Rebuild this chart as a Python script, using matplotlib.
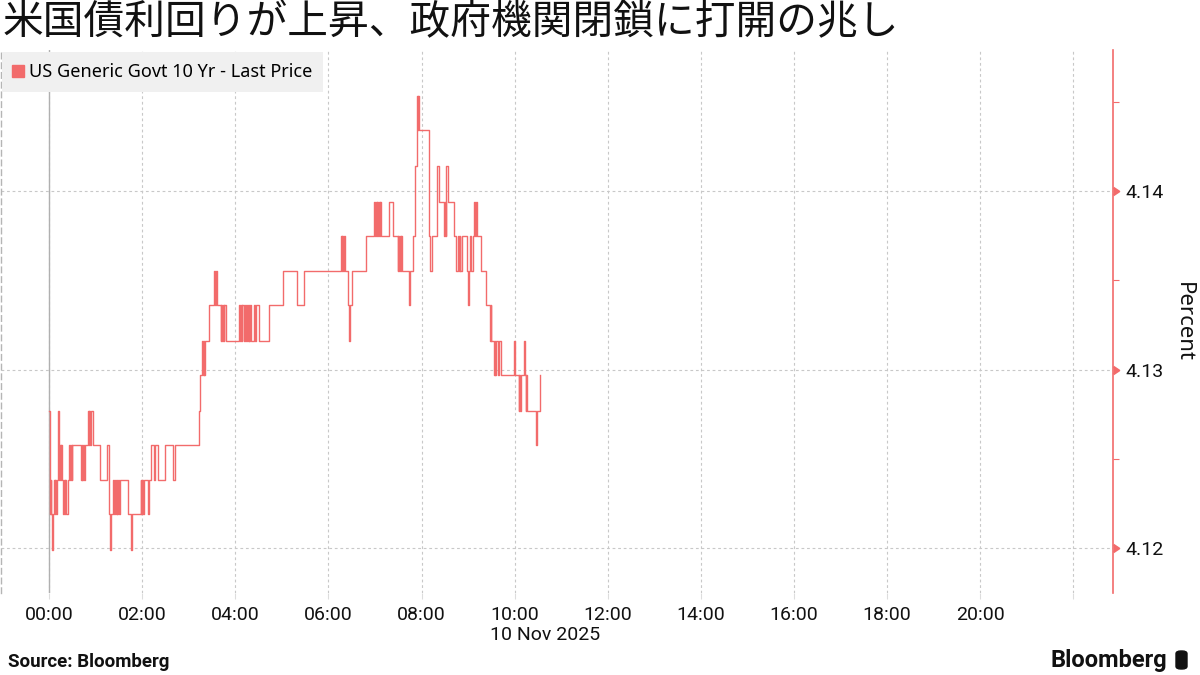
import matplotlib
matplotlib.use("Agg")
import matplotlib.pyplot as plt
import matplotlib.dates as mdates
from matplotlib.lines import Line2D
from matplotlib.patches import FancyBboxPatch
import pandas as pd

# ---------------- data ----------------
title = "米国債利回りが上昇、政府機関閉鎖に打開の兆し"
series_name = "US Generic Govt 10 Yr - Last Price"
date_label = "10 Nov 2025"
y_label = "Percent"
source = "Source: Bloomberg"

times = [
    "00:00", "00:01", "00:02", "00:03", "00:04", "00:05", "00:06", "00:07", "00:08", "00:09",
    "00:10", "00:12", "00:13", "00:14", "00:15", "00:16", "00:17", "00:18", "00:19", "00:20",
    "00:21", "00:22", "00:24", "00:26", "00:27", "00:28", "00:29", "00:30", "00:41", "00:42",
    "00:43", "00:44", "00:45", "00:46", "00:50", "00:51", "00:52", "00:53", "00:54", "00:56",
    "01:05", "01:15", "01:17", "01:19", "01:20", "01:22", "01:24", "01:25", "01:26", "01:27",
    "01:28", "01:29", "01:30", "01:31", "01:42", "01:45", "01:47", "01:58", "01:59", "02:00",
    "02:01", "02:02", "02:07", "02:09", "02:11", "02:15", "02:17", "02:20", "02:29", "02:37",
    "02:40", "02:42", "03:13", "03:15", "03:17", "03:18", "03:19", "03:20", "03:21", "03:26",
    "03:33", "03:34", "03:35", "03:36", "03:41", "03:42", "03:43", "03:44", "03:45", "03:46",
    "03:48", "04:05", "04:06", "04:07", "04:08", "04:09", "04:11", "04:13", "04:14", "04:15",
    "04:16", "04:17", "04:18", "04:19", "04:20", "04:24", "04:26", "04:27", "04:31", "04:43",
    "05:01", "05:20", "05:28", "06:16", "06:17", "06:18", "06:19", "06:20", "06:21", "06:25",
    "06:27", "06:28", "06:31", "06:48", "06:59", "07:00", "07:01", "07:02", "07:03", "07:04",
    "07:05", "07:06", "07:07", "07:08", "07:18", "07:23", "07:29", "07:30", "07:31", "07:32",
    "07:33", "07:34", "07:35", "07:44", "07:45", "07:49", "07:51", "07:52", "07:54", "07:55",
    "07:56", "07:57", "08:10", "08:11", "08:13", "08:20", "08:23", "08:29", "08:30", "08:31",
    "08:32", "08:34", "08:42", "08:45", "08:47", "08:48", "08:49", "08:50", "08:52", "08:58",
    "09:00", "09:01", "09:02", "09:04", "09:06", "09:07", "09:09", "09:10", "09:12", "09:16",
    "09:23", "09:28", "09:29", "09:30", "09:33", "09:34", "09:35", "09:36", "09:38", "09:40",
    "09:42", "09:59", "10:00", "10:05", "10:06", "10:07", "10:08", "10:12", "10:13", "10:14",
    "10:15", "10:16", "10:27", "10:29", "10:33",
]
yields = [
    4.1277, 4.1219, 4.1238, 4.1219, 4.1199, 4.1219, 4.1238, 4.1219, 4.1238, 4.1219,
    4.1238, 4.1277, 4.1238, 4.1258, 4.1238, 4.1258, 4.1238, 4.1219, 4.1238, 4.1219,
    4.1238, 4.1219, 4.1238, 4.1258, 4.1238, 4.1258, 4.1238, 4.1258, 4.1238, 4.1258,
    4.1238, 4.1258, 4.1238, 4.1258, 4.1277, 4.1258, 4.1277, 4.1258, 4.1277, 4.1258,
    4.1238, 4.1258, 4.1219, 4.1199, 4.1219, 4.1238, 4.1219, 4.1238, 4.1219, 4.1238,
    4.1219, 4.1238, 4.1219, 4.1238, 4.1219, 4.1199, 4.1219, 4.1238, 4.1219, 4.1238,
    4.1219, 4.1238, 4.1219, 4.1238, 4.1258, 4.1238, 4.1258, 4.1238, 4.1258, 4.1258,
    4.1238, 4.1258, 4.1277, 4.1297, 4.1316, 4.1297, 4.1316, 4.1297, 4.1316, 4.1336,
    4.1355, 4.1336, 4.1355, 4.1336, 4.1316, 4.1336, 4.1316, 4.1336, 4.1316, 4.1336,
    4.1316, 4.1336, 4.1316, 4.1336, 4.1316, 4.1336, 4.1316, 4.1336, 4.1316, 4.1336,
    4.1316, 4.1336, 4.1316, 4.1336, 4.1316, 4.1336, 4.1316, 4.1336, 4.1316, 4.1336,
    4.1355, 4.1336, 4.1355, 4.1375, 4.1355, 4.1375, 4.1355, 4.1375, 4.1355, 4.1336,
    4.1316, 4.1336, 4.1355, 4.1375, 4.1394, 4.1375, 4.1394, 4.1375, 4.1394, 4.1375,
    4.1394, 4.1375, 4.1394, 4.1375, 4.1394, 4.1375, 4.1355, 4.1375, 4.1355, 4.1375,
    4.1355, 4.1375, 4.1355, 4.1336, 4.1355, 4.1375, 4.1394, 4.1414, 4.1453, 4.1434,
    4.1453, 4.1434, 4.1375, 4.1355, 4.1375, 4.1414, 4.1394, 4.1375, 4.1394, 4.1375,
    4.1414, 4.1394, 4.1375, 4.1355, 4.1375, 4.1355, 4.1375, 4.1355, 4.1375, 4.1355,
    4.1336, 4.1355, 4.1375, 4.1355, 4.1375, 4.1394, 4.1375, 4.1394, 4.1375, 4.1355,
    4.1336, 4.1316, 4.1336, 4.1316, 4.1297, 4.1316, 4.1297, 4.1316, 4.1297, 4.1316,
    4.1297, 4.1316, 4.1297, 4.1277, 4.1297, 4.1277, 4.1297, 4.1316, 4.1297, 4.1277,
    4.1297, 4.1277, 4.1258, 4.1277, 4.1297,
]
y_ticks = [4.12, 4.13, 4.14]
y_minor_ticks = [4.125, 4.135, 4.145]
x_start = "2025-11-09 22:58"
x_end = "2025-11-10 22:51"
y_min, y_max = 4.1175, 4.1479

# ---------------- style ----------------
RED = "#f26b6b"
GRID = "#c8c8c8"
TXT = "#111111"
plt.rcParams["font.family"] = ["Noto Sans", "DejaVu Sans"]
NARROW = ["Roboto", "Liberation Sans", "DejaVu Sans"]

t = pd.to_datetime(["2025-11-10 " + s for s in times])

fig = plt.figure(figsize=(12, 6.75), dpi=100)
ax = fig.add_axes([0.0008, 1 - 593 / 675, 1113 / 1200 - 0.0008, (593 - 50) / 675])

ax.step(t, yields, where="post", color=RED, lw=1.0, zorder=3)

ax.set_xlim(pd.Timestamp(x_start), pd.Timestamp(x_end))
ax.set_ylim(y_min, y_max)

# x axis
ax.xaxis.set_major_locator(mdates.HourLocator(byhour=range(0, 24, 2)))
ax.xaxis.set_major_formatter(
    matplotlib.ticker.FuncFormatter(
        lambda v, p: "" if mdates.num2date(v).hour == 22 else mdates.num2date(v).strftime("%H:%M")))
ax.tick_params(axis="x", length=4, color="#dddddd", labelsize=14, pad=5, labelcolor=TXT)
for lbl in ax.get_xticklabels():
    lbl.set_fontfamily(NARROW)

# y axis on the right
ax.yaxis.tick_right()
ax.yaxis.set_label_position("right")
ax.set_yticks(y_ticks)
ax.set_yticks(y_minor_ticks, minor=True)
ax.yaxis.set_major_formatter(matplotlib.ticker.FormatStrFormatter("%.2f"))
ax.tick_params(axis="y", which="major", length=0, pad=9, labelsize=14, labelcolor=TXT)
ax.tick_params(axis="y", which="minor", length=4, width=0.8, color=RED)
for lbl in ax.get_yticklabels():
    lbl.set_fontfamily(NARROW)
ax.scatter([1] * len(y_ticks), y_ticks, marker=9, s=30, color=RED,
           transform=ax.get_yaxis_transform(), clip_on=False, zorder=5)
ax.set_ylabel(y_label, rotation=270, fontsize=16, labelpad=22, color=TXT)

# grid
ax.grid(True, which="major", axis="both", color=GRID, lw=0.8, ls=(0, (2.5, 2.5)))
ax.axvline(pd.Timestamp("2025-11-10 00:00"), color="#b0b0b0", lw=1.0, zorder=2)

# spines
for s in ["top", "bottom"]:
    ax.spines[s].set_visible(False)
ax.spines["right"].set_color(RED)
ax.spines["right"].set_linewidth(1.2)
ax.spines["left"].set_color("#b5b5b5")
ax.spines["left"].set_linestyle((0, (4, 3)))
ax.spines["left"].set_linewidth(1.0)

# date label
fig.text(545 / 1200, 1 - 635 / 675, date_label, ha="center", va="center", fontsize=14,
         family=NARROW, color=TXT)

# title
fig.text(3 / 1200, 1 - 23 / 675, title, ha="left", va="center", fontsize=29.3,
         family=["Noto Sans CJK JP", "DejaVu Sans"], color=TXT)

# legend
handle = Line2D([], [], marker="s", color=RED, lw=0, markersize=9)
leg = fig.legend([handle], [series_name], loc="upper left",
                 bbox_to_anchor=(2 / 1200, 1 - 52 / 675), frameon=True,
                 facecolor="#f0f0f0", edgecolor="none", fancybox=False,
                 fontsize=13, handlelength=0.6, handletextpad=0.3,
                 borderpad=0.6, borderaxespad=0)
leg.get_frame().set_alpha(1)

# footer
fig.text(8 / 1200, 1 - 662 / 675, source, ha="left", va="center", fontsize=13.5,
         fontweight="bold", family=NARROW, color=TXT)
fig.text(1167 / 1200, 1 - 660 / 675, "Bloomberg", ha="right", va="center", fontsize=17,
         fontweight="bold", family=NARROW, color=TXT)
fig.patches.append(FancyBboxPatch((1176 / 1200, 1 - 669 / 675), 11 / 1200, 18 / 675,
                                  boxstyle="round,pad=0,rounding_size=0.004",
                                  transform=fig.transFigure, color=TXT))

fig.savefig("out.png", dpi=100)
